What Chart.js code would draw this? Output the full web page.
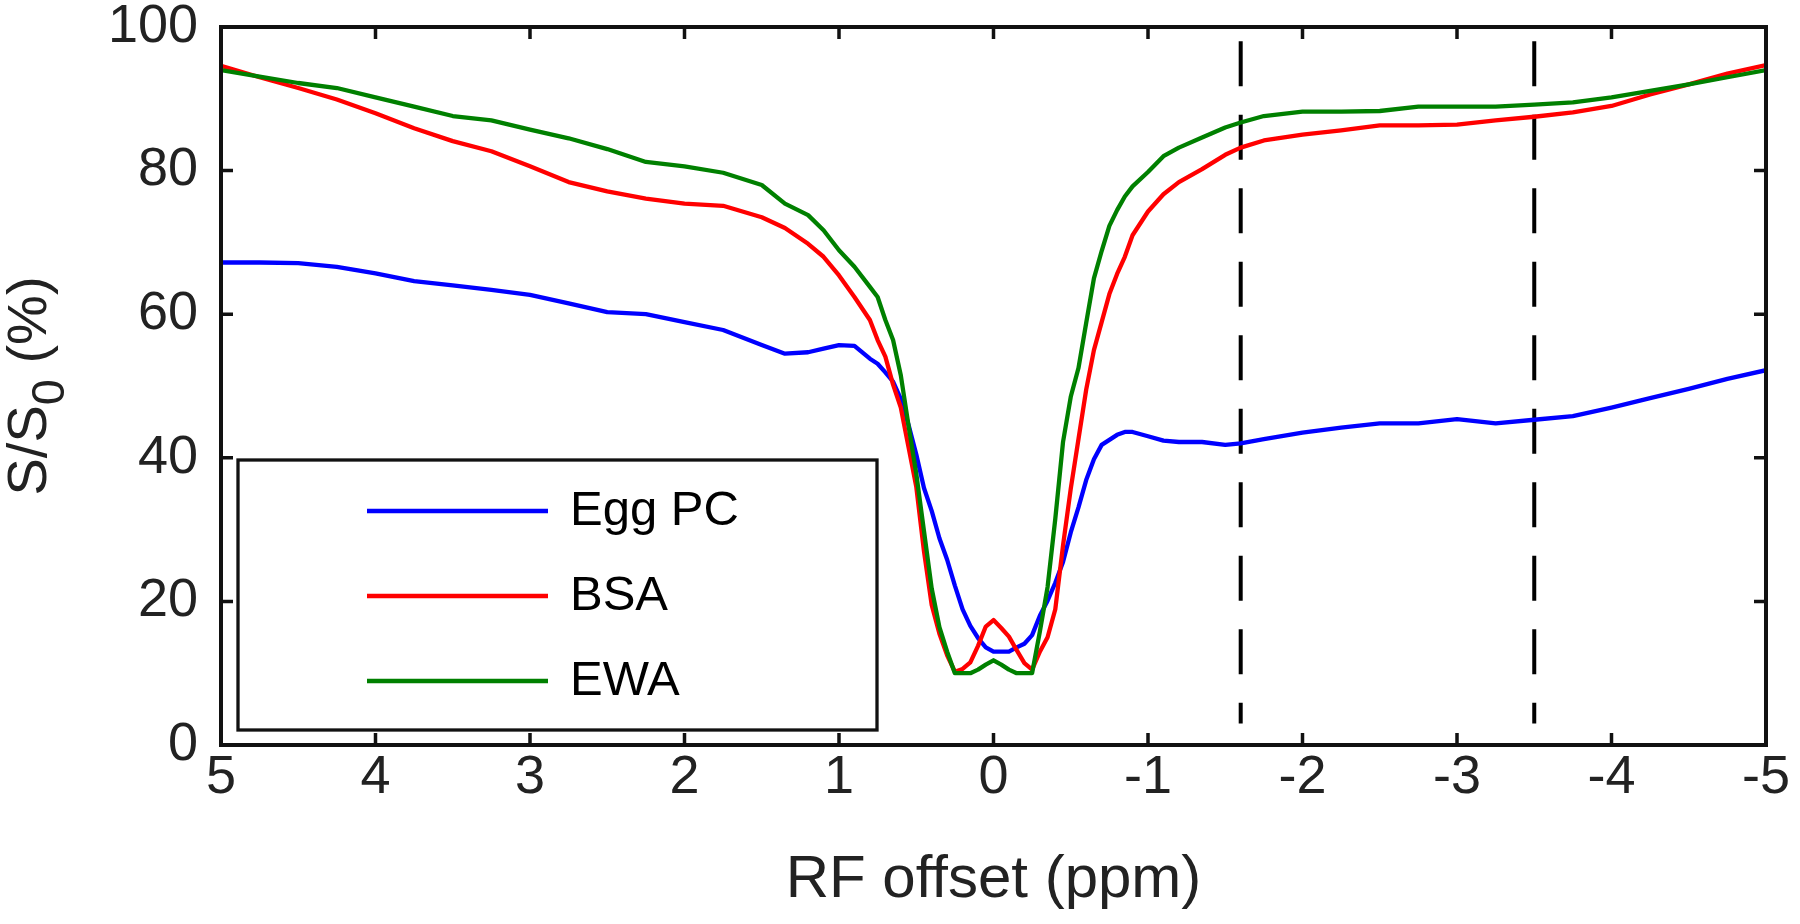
<!DOCTYPE html>
<html><head><meta charset="utf-8">
<script src="https://cdn.jsdelivr.net/npm/chart.js@4.4.0/dist/chart.umd.min.js"></script>
<style>html,body{margin:0;padding:0;background:#fff;overflow:hidden}#wrap{width:1800px;height:924px}</style>
</head><body><div id="wrap"><canvas id="c" width="1800" height="924"></canvas></div>
<script>
// ---- data ----
const offsets = [5, 4.75, 4.5, 4.25, 4, 3.75, 3.5, 3.25, 3, 2.75, 2.5, 2.25, 2, 1.75, 1.5,
  1.35, 1.2, 1.1, 1, 0.9, 0.8,
  0.75, 0.7, 0.65, 0.6, 0.55, 0.5, 0.45, 0.4, 0.35, 0.3, 0.25, 0.2, 0.15, 0.1, 0.05, 0,
  -0.05, -0.1, -0.15, -0.2, -0.25, -0.3, -0.35, -0.4, -0.45, -0.5, -0.55, -0.6, -0.65, -0.7, -0.75, -0.8, -0.85, -0.9,
  -1, -1.1, -1.2, -1.35, -1.5, -1.6, -1.75,
  -2, -2.25, -2.5, -2.75, -3, -3.25, -3.5, -3.75, -4, -4.25, -4.5, -4.75, -5];
const eggPC = [67.2, 67.2, 67.1, 66.6, 65.7, 64.6, 64.0, 63.4, 62.7, 61.5, 60.3, 60.0, 58.9, 57.8, 55.7,
  54.5, 54.7, 55.2, 55.7, 55.6, 53.8,
  53.1, 51.9, 50.6, 48.2, 44.6, 40.5, 35.8, 32.6, 28.8, 25.8, 22.2, 18.9, 16.6, 14.9, 13.6, 13.0,
  13.0, 13.0, 13.6, 14.1, 15.3, 18.0, 20.1, 22.6, 25.5, 29.6, 33.1, 36.9, 39.8, 41.8, 42.5, 43.2, 43.6, 43.6,
  43.0, 42.4, 42.2, 42.2, 41.8, 42.0, 42.6,
  43.5, 44.2, 44.8, 44.8, 45.4, 44.8, 45.3, 45.8, 47.0, 48.3, 49.6, 51.0, 52.2];
const bsa = [94.6, 93.0, 91.5, 89.9, 88.0, 85.9, 84.1, 82.7, 80.6, 78.4, 77.1, 76.1, 75.4, 75.1, 73.5,
  72.0, 69.8, 68.0, 65.4, 62.4, 59.2,
  56.4, 54.1, 50.2, 47.0, 41.5, 36.0, 27.0, 19.5, 15.5, 12.5, 10.2, 10.6, 11.5, 13.8, 16.5, 17.4,
  16.3, 15.1, 13.2, 11.4, 10.5, 13.0, 15.0, 18.9, 27.8, 35.7, 42.6, 49.5, 55.0, 58.9, 62.8, 65.6, 68.0, 71.0,
  74.3, 76.7, 78.4, 80.2, 82.2, 83.2, 84.2,
  85.0, 85.6, 86.3, 86.3, 86.4, 87.0, 87.5, 88.1, 89.0, 90.6, 92.0, 93.5, 94.7];
const ewa = [94.0, 93.1, 92.2, 91.5, 90.2, 88.9, 87.6, 87.0, 85.7, 84.5, 83.0, 81.2, 80.6, 79.7, 78.0,
  75.4, 73.8, 71.7, 68.9, 66.6, 63.8,
  62.4, 59.2, 56.4, 51.5, 44.5, 37.8, 29.8, 21.8, 16.4, 13.0, 10.0, 10.0, 10.0, 10.5, 11.2, 11.8,
  11.2, 10.5, 10.0, 10.0, 10.0, 15.8, 22.0, 31.5, 42.2, 48.5, 52.5, 58.8, 65.0, 68.8, 72.3, 74.5, 76.4, 77.8,
  79.8, 82.0, 83.2, 84.6, 86.0, 86.7, 87.6,
  88.2, 88.2, 88.3, 88.9, 88.9, 88.9, 89.2, 89.5, 90.2, 91.1, 92.0, 93.0, 94.0];
const seriesNames = ['Egg PC', 'BSA', 'EWA'];
const seriesColors = ['#0000ff', '#ff0000', '#008000'];
const markerOffsets = [-1.6, -3.5];
const markerSpan = [98, 3];
const xTicks = [5, 4, 3, 2, 1, 0, -1, -2, -3, -4, -5];
const yTicks = [0, 20, 40, 60, 80, 100];
const xTitle = 'RF offset (ppm)';
const yTitleParts = ['S/S', '0', ' (%)'];

// ---- chart ----
const FONT = "'Liberation Sans', Arial, Helvetica, sans-serif";
const TXT = '#222222';
const seriesValues = [eggPC, bsa, ewa];

const datasets = seriesValues.map((vals, i) => ({
  label: seriesNames[i],
  data: offsets.map((x, k) => ({x: x, y: vals[k]})),
  borderColor: seriesColors[i],
  backgroundColor: seriesColors[i],
  borderWidth: 4.3,
  borderJoinStyle: 'round',
  pointRadius: 0,
  tension: 0,
  fill: false,
  order: 3 - i
}));
markerOffsets.forEach(m => datasets.push({
  label: '',
  isMarker: true,
  data: markerSpan.map(v => ({x: m, y: v})),
  borderColor: '#000',
  borderWidth: 4,
  borderDash: [45, 28.5],
  pointRadius: 0,
  fill: false,
  order: 5
}));

const framePlugin = {
  id: 'frame',
  afterDatasetsDraw(chart) {
    const {ctx, chartArea: a, scales: {x, y}} = chart;
    ctx.save();
    ctx.strokeStyle = '#111';
    ctx.lineWidth = 3.5;
    ctx.beginPath();
    xTicks.forEach(v => {
      const px = x.getPixelForValue(v);
      ctx.moveTo(px, a.bottom); ctx.lineTo(px, a.bottom - 12);
      ctx.moveTo(px, a.top); ctx.lineTo(px, a.top + 12);
    });
    yTicks.forEach(v => {
      const py = y.getPixelForValue(v);
      ctx.moveTo(a.left, py); ctx.lineTo(a.left + 12, py);
      ctx.moveTo(a.right, py); ctx.lineTo(a.right - 12, py);
    });
    ctx.stroke();
    ctx.lineWidth = 4;
    ctx.strokeRect(a.left, a.top, a.right - a.left, a.bottom - a.top);
    ctx.restore();
  }
};

const legendPlugin = {
  id: 'boxLegend',
  afterDraw(chart) {
    const {ctx, chartArea: a} = chart;
    const bx = a.left + 17, bw = 639, bh = 270, by = a.bottom - 15 - bh;
    ctx.save();
    ctx.fillStyle = '#fff';
    ctx.fillRect(bx, by, bw, bh);
    ctx.strokeStyle = '#111';
    ctx.lineWidth = 3.3;
    ctx.strokeRect(bx, by, bw, bh);
    ctx.font = '49px ' + FONT;
    ctx.textBaseline = 'middle';
    ctx.textAlign = 'left';
    const rows = [51, 136, 221];
    chart.data.datasets.filter(d => !d.isMarker).forEach((d, i) => {
      const yy = by + rows[i];
      ctx.strokeStyle = d.borderColor;
      ctx.lineWidth = 4.3;
      ctx.beginPath();
      ctx.moveTo(bx + 129, yy); ctx.lineTo(bx + 310, yy);
      ctx.stroke();
      ctx.fillStyle = '#000';
      ctx.fillText(d.label, bx + 332, yy);
    });
    ctx.restore();
  }
};

const titlesPlugin = {
  id: 'titles',
  afterDraw(chart) {
    const {ctx, chartArea: a} = chart;
    ctx.save();
    ctx.fillStyle = TXT;
    ctx.font = '60px ' + FONT;
    ctx.textAlign = 'center';
    ctx.textBaseline = 'middle';
    ctx.fillText(xTitle, (a.left + a.right) / 2, 880);
    // y title with subscript
    const big = '56px ' + FONT, small = '47px ' + FONT;
    ctx.font = big; const w1 = ctx.measureText(yTitleParts[0]).width;
    ctx.font = small; const w2 = ctx.measureText(yTitleParts[1]).width;
    ctx.font = big; const w3 = ctx.measureText(yTitleParts[2]).width;
    const total = w1 + w2 + w3;
    ctx.translate(46, (a.top + a.bottom) / 2);
    ctx.rotate(-Math.PI / 2);
    ctx.textAlign = 'left';
    ctx.textBaseline = 'alphabetic';
    let u = -total / 2;
    ctx.font = big; ctx.fillText(yTitleParts[0], u, 0); u += w1;
    ctx.font = small; ctx.fillText(yTitleParts[1], u, 18); u += w2;
    ctx.font = big; ctx.fillText(yTitleParts[2], u, 0);
    ctx.restore();
  }
};

const noScalePadding = s => { s.paddingTop = 0; s.paddingBottom = 0; s.paddingLeft = 0; s.paddingRight = 0; };

new Chart(document.getElementById('c'), {
  type: 'line',
  data: {datasets},
  options: {
    responsive: false,
    animation: false,
    devicePixelRatio: 1,
    layout: {padding: {top: 27, right: 34, left: 0, bottom: 0}},
    plugins: {legend: {display: false}, tooltip: {enabled: false}},
    scales: {
      x: {
        type: 'linear', reverse: true, min: -5, max: 5,
        afterBuildTicks: s => { s.ticks = xTicks.map(v => ({value: v})); },
        afterFit: s => { s.height = 179; noScalePadding(s); },
        ticks: {font: {family: FONT, size: 54, lineHeight: 1}, color: TXT, padding: 6,
          maxRotation: 0, minRotation: 0, autoSkip: false, callback: v => String(v)},
        grid: {display: false, drawTicks: false},
        border: {display: false}
      },
      y: {
        type: 'linear', min: 0, max: 100,
        afterBuildTicks: s => { s.ticks = yTicks.map(v => ({value: v})); },
        afterFit: s => { s.width = 221; noScalePadding(s); },
        ticks: {font: {family: FONT, size: 54, lineHeight: 1}, color: TXT, padding: 23,
          autoSkip: false, callback: v => String(v)},
        grid: {display: false, drawTicks: false},
        border: {display: false}
      }
    }
  },
  plugins: [framePlugin, legendPlugin, titlesPlugin]
});
</script>
</body></html>
